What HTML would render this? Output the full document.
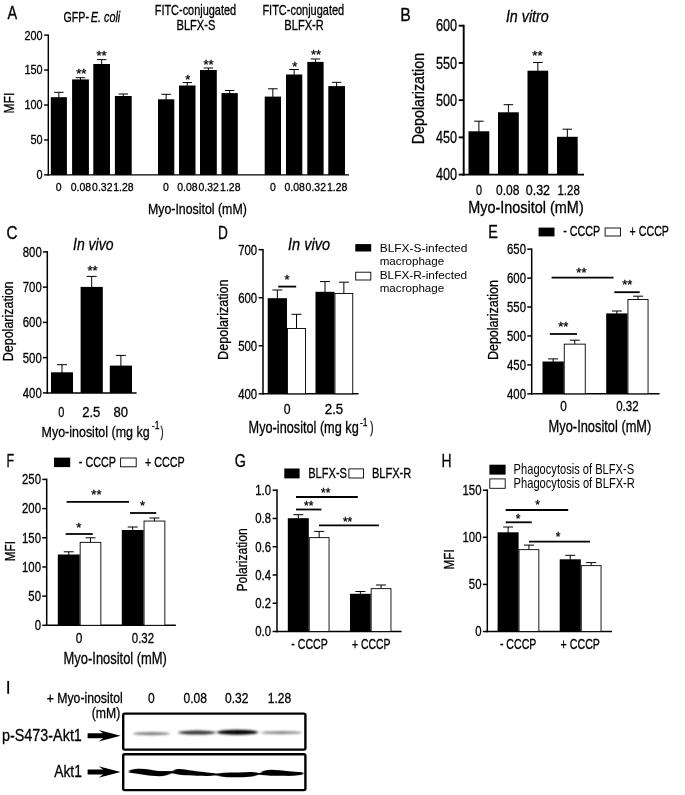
<!DOCTYPE html>
<html><head><meta charset="utf-8"><title>Figure</title>
<style>
html,body{margin:0;padding:0;background:#fff;}
body{width:685px;height:795px;overflow:hidden;}
svg{display:block;font-family:"Liberation Sans",sans-serif;}
text{stroke:#000;stroke-width:0.3px;}
text.n{stroke:none;}
</style></head><body>
<svg width="685" height="795" viewBox="0 0 685 795">
<defs>
<filter id="soft" x="0" y="0" width="685" height="795" filterUnits="userSpaceOnUse"><feGaussianBlur stdDeviation="0.4"/></filter>
<filter id="bA" x="-20%" y="-200%" width="140%" height="500%"><feGaussianBlur stdDeviation="1.6 0.9"/></filter>
<filter id="bB" x="-5%" y="-50%" width="110%" height="200%"><feGaussianBlur stdDeviation="3.5 2.2"/></filter>
</defs>
<rect width="685" height="795" fill="#fff"/>
<g filter="url(#soft)">
<rect width="685" height="795" fill="#fff"/>
<text transform="translate(7.40,19.00) scale(0.8043,1)" font-size="18" fill="#000">A</text>
<text transform="translate(63.60,21.90) scale(0.7591,1)" font-size="14" fill="#000">GFP-</text>
<text transform="translate(90.70,21.90) scale(0.7754,1)" font-size="14" font-style="italic" fill="#000">E. coli</text>
<text transform="translate(154.70,15.20) scale(0.7824,1)" font-size="14" fill="#000">FITC-conjugated</text>
<text transform="translate(176.50,30.40) scale(0.7939,1)" font-size="14" fill="#000">BLFX-S</text>
<text transform="translate(262.40,15.20) scale(0.7852,1)" font-size="14" fill="#000">FITC-conjugated</text>
<text transform="translate(284.30,30.40) scale(0.7937,1)" font-size="14" fill="#000">BLFX-R</text>
<text transform="translate(13.80,113.50) rotate(-90) scale(0.8101,1)" font-size="15">MFI</text>
<line x1="48.30" y1="34.40" x2="48.30" y2="175.60" stroke="#000" stroke-width="1.4"/>
<line x1="47.60" y1="174.90" x2="349.00" y2="174.90" stroke="#000" stroke-width="1.4"/>
<line x1="44.10" y1="35.10" x2="48.30" y2="35.10" stroke="#000" stroke-width="1.4"/>
<text transform="translate(24.40,39.51) scale(0.8649,1)" font-size="12.6" fill="#000">200</text>
<line x1="44.10" y1="70.05" x2="48.30" y2="70.05" stroke="#000" stroke-width="1.4"/>
<text transform="translate(24.40,74.46) scale(0.8649,1)" font-size="12.6" fill="#000">150</text>
<line x1="44.10" y1="105.00" x2="48.30" y2="105.00" stroke="#000" stroke-width="1.4"/>
<text transform="translate(24.40,109.41) scale(0.8649,1)" font-size="12.6" fill="#000">100</text>
<line x1="44.10" y1="139.95" x2="48.30" y2="139.95" stroke="#000" stroke-width="1.4"/>
<text transform="translate(30.50,144.36) scale(0.8649,1)" font-size="12.6" fill="#000">50</text>
<line x1="44.10" y1="174.90" x2="48.30" y2="174.90" stroke="#000" stroke-width="1.4"/>
<text transform="translate(36.55,179.31) scale(0.8649,1)" font-size="12.6" fill="#000">0</text>
<line x1="58.85" y1="92.30" x2="58.85" y2="98.20" stroke="#000" stroke-width="1.0"/>
<line x1="54.10" y1="92.30" x2="63.60" y2="92.30" stroke="#000" stroke-width="1.0"/>
<rect x="50.80" y="97.20" width="16.10" height="77.70" fill="#000"/>
<line x1="80.50" y1="77.70" x2="80.50" y2="80.40" stroke="#000" stroke-width="1.0"/>
<line x1="75.75" y1="77.70" x2="85.25" y2="77.70" stroke="#000" stroke-width="1.0"/>
<rect x="72.10" y="79.40" width="16.80" height="95.50" fill="#000"/>
<line x1="101.65" y1="59.60" x2="101.65" y2="65.00" stroke="#000" stroke-width="1.0"/>
<line x1="96.90" y1="59.60" x2="106.40" y2="59.60" stroke="#000" stroke-width="1.0"/>
<rect x="93.30" y="64.00" width="16.70" height="110.90" fill="#000"/>
<line x1="123.30" y1="94.00" x2="123.30" y2="97.00" stroke="#000" stroke-width="1.0"/>
<line x1="118.55" y1="94.00" x2="128.05" y2="94.00" stroke="#000" stroke-width="1.0"/>
<rect x="114.90" y="96.00" width="16.80" height="78.90" fill="#000"/>
<line x1="166.15" y1="94.30" x2="166.15" y2="100.30" stroke="#000" stroke-width="1.0"/>
<line x1="161.40" y1="94.30" x2="170.90" y2="94.30" stroke="#000" stroke-width="1.0"/>
<rect x="158.00" y="99.30" width="16.30" height="75.60" fill="#000"/>
<line x1="187.25" y1="82.60" x2="187.25" y2="86.50" stroke="#000" stroke-width="1.0"/>
<line x1="182.50" y1="82.60" x2="192.00" y2="82.60" stroke="#000" stroke-width="1.0"/>
<rect x="179.00" y="85.50" width="16.50" height="89.40" fill="#000"/>
<line x1="208.40" y1="68.00" x2="208.40" y2="71.00" stroke="#000" stroke-width="1.0"/>
<line x1="203.65" y1="68.00" x2="213.15" y2="68.00" stroke="#000" stroke-width="1.0"/>
<rect x="200.00" y="70.00" width="16.80" height="104.90" fill="#000"/>
<line x1="229.65" y1="90.50" x2="229.65" y2="94.10" stroke="#000" stroke-width="1.0"/>
<line x1="224.90" y1="90.50" x2="234.40" y2="90.50" stroke="#000" stroke-width="1.0"/>
<rect x="221.50" y="93.10" width="16.30" height="81.80" fill="#000"/>
<line x1="272.85" y1="88.80" x2="272.85" y2="97.60" stroke="#000" stroke-width="1.0"/>
<line x1="268.10" y1="88.80" x2="277.60" y2="88.80" stroke="#000" stroke-width="1.0"/>
<rect x="264.70" y="96.60" width="16.30" height="78.30" fill="#000"/>
<line x1="294.15" y1="69.50" x2="294.15" y2="75.50" stroke="#000" stroke-width="1.0"/>
<line x1="289.40" y1="69.50" x2="298.90" y2="69.50" stroke="#000" stroke-width="1.0"/>
<rect x="286.00" y="74.50" width="16.30" height="100.40" fill="#000"/>
<line x1="315.45" y1="59.00" x2="315.45" y2="62.90" stroke="#000" stroke-width="1.0"/>
<line x1="310.70" y1="59.00" x2="320.20" y2="59.00" stroke="#000" stroke-width="1.0"/>
<rect x="307.30" y="61.90" width="16.30" height="113.00" fill="#000"/>
<line x1="336.65" y1="82.30" x2="336.65" y2="87.10" stroke="#000" stroke-width="1.0"/>
<line x1="331.90" y1="82.30" x2="341.40" y2="82.30" stroke="#000" stroke-width="1.0"/>
<rect x="328.30" y="86.10" width="16.70" height="88.80" fill="#000"/>
<text transform="translate(76.13,77.78) scale(1.0,1)" font-size="13">**</text>
<text transform="translate(96.53,60.38) scale(1.0,1)" font-size="13">**</text>
<text transform="translate(185.37,83.98) scale(1.0,1)" font-size="13">*</text>
<text transform="translate(203.53,68.58) scale(1.0,1)" font-size="13">**</text>
<text transform="translate(292.16,70.58) scale(1.0,1)" font-size="13">*</text>
<text transform="translate(310.93,58.88) scale(1.0,1)" font-size="13">**</text>
<text transform="translate(55.70,190.80) scale(0.9100,1)" font-size="11.5" fill="#000">0</text>
<text transform="translate(70.72,190.80) scale(0.9100,1)" font-size="11.5" fill="#000">0.08</text>
<text transform="translate(92.12,190.80) scale(0.9100,1)" font-size="11.5" fill="#000">0.32</text>
<text transform="translate(113.22,190.80) scale(0.9100,1)" font-size="11.5" fill="#000">1.28</text>
<text transform="translate(162.90,190.80) scale(0.9100,1)" font-size="11.5" fill="#000">0</text>
<text transform="translate(177.22,190.80) scale(0.9100,1)" font-size="11.5" fill="#000">0.08</text>
<text transform="translate(198.52,190.80) scale(0.9100,1)" font-size="11.5" fill="#000">0.32</text>
<text transform="translate(220.12,190.80) scale(0.9100,1)" font-size="11.5" fill="#000">1.28</text>
<text transform="translate(269.90,190.80) scale(0.9100,1)" font-size="11.5" fill="#000">0</text>
<text transform="translate(284.52,190.80) scale(0.9100,1)" font-size="11.5" fill="#000">0.08</text>
<text transform="translate(305.62,190.80) scale(0.9100,1)" font-size="11.5" fill="#000">0.32</text>
<text transform="translate(327.02,190.80) scale(0.9100,1)" font-size="11.5" fill="#000">1.28</text>
<text transform="translate(147.90,213.50) scale(0.8418,1)" font-size="14.7" fill="#000">Myo-Inositol (mM)</text>
<text transform="translate(400.30,20.60) scale(0.8772,1)" font-size="18" fill="#000">B</text>
<text transform="translate(505.90,22.20) scale(0.8773,1)" font-size="16.3" font-style="italic" fill="#000">In vitro</text>
<text transform="translate(424.20,144.20) rotate(-90) scale(0.8662,1)" font-size="16.5">Depolarization</text>
<line x1="463.70" y1="24.75" x2="463.70" y2="175.55" stroke="#000" stroke-width="1.9"/>
<line x1="462.75" y1="174.60" x2="584.00" y2="174.60" stroke="#000" stroke-width="1.9"/>
<line x1="458.70" y1="25.70" x2="463.70" y2="25.70" stroke="#000" stroke-width="1.9"/>
<text transform="translate(436.00,31.40) scale(0.7788,1)" font-size="16.3" fill="#000">600</text>
<line x1="458.70" y1="62.92" x2="463.70" y2="62.92" stroke="#000" stroke-width="1.9"/>
<text transform="translate(436.00,68.63) scale(0.7788,1)" font-size="16.3" fill="#000">550</text>
<line x1="458.70" y1="100.15" x2="463.70" y2="100.15" stroke="#000" stroke-width="1.9"/>
<text transform="translate(436.00,105.85) scale(0.7788,1)" font-size="16.3" fill="#000">500</text>
<line x1="458.70" y1="137.38" x2="463.70" y2="137.38" stroke="#000" stroke-width="1.9"/>
<text transform="translate(436.00,143.08) scale(0.7788,1)" font-size="16.3" fill="#000">450</text>
<line x1="458.70" y1="174.60" x2="463.70" y2="174.60" stroke="#000" stroke-width="1.9"/>
<text transform="translate(436.00,180.31) scale(0.7788,1)" font-size="16.3" fill="#000">400</text>
<line x1="478.90" y1="121.20" x2="478.90" y2="132.30" stroke="#000" stroke-width="1.0"/>
<line x1="474.15" y1="121.20" x2="483.65" y2="121.20" stroke="#000" stroke-width="1.0"/>
<rect x="468.50" y="131.30" width="20.80" height="43.30" fill="#000"/>
<line x1="508.40" y1="104.70" x2="508.40" y2="113.30" stroke="#000" stroke-width="1.0"/>
<line x1="503.65" y1="104.70" x2="513.15" y2="104.70" stroke="#000" stroke-width="1.0"/>
<rect x="498.00" y="112.30" width="20.80" height="62.30" fill="#000"/>
<line x1="537.85" y1="62.50" x2="537.85" y2="71.70" stroke="#000" stroke-width="1.0"/>
<line x1="533.10" y1="62.50" x2="542.60" y2="62.50" stroke="#000" stroke-width="1.0"/>
<rect x="527.50" y="70.70" width="20.70" height="103.90" fill="#000"/>
<line x1="567.35" y1="129.20" x2="567.35" y2="137.80" stroke="#000" stroke-width="1.0"/>
<line x1="562.60" y1="129.20" x2="572.10" y2="129.20" stroke="#000" stroke-width="1.0"/>
<rect x="557.00" y="136.80" width="20.70" height="37.80" fill="#000"/>
<text transform="translate(532.33,59.78) scale(1.0,1)" font-size="13">**</text>
<text transform="translate(476.00,194.90) scale(0.7560,1)" font-size="14.3" fill="#000">0</text>
<text transform="translate(496.00,194.90) scale(0.8377,1)" font-size="14.3" fill="#000">0.08</text>
<text transform="translate(525.80,194.90) scale(0.8701,1)" font-size="14.3" fill="#000">0.32</text>
<text transform="translate(557.50,194.90) scale(0.8018,1)" font-size="14.3" fill="#000">1.28</text>
<text transform="translate(468.20,213.30) scale(0.8750,1)" font-size="16.5" fill="#000">Myo-Inositol (mM)</text>
<text transform="translate(6.60,238.70) scale(0.8730,1)" font-size="17.5" fill="#000">C</text>
<text transform="translate(73.00,250.20) scale(0.8597,1)" font-size="16.3" font-style="italic" fill="#000">In vivo</text>
<text transform="translate(13.10,361.20) rotate(-90) scale(0.8051,1)" font-size="15.5">Depolarization</text>
<line x1="47.30" y1="251.15" x2="47.30" y2="393.65" stroke="#000" stroke-width="1.5"/>
<line x1="46.55" y1="392.90" x2="136.60" y2="392.90" stroke="#000" stroke-width="1.5"/>
<line x1="42.90" y1="251.90" x2="47.30" y2="251.90" stroke="#000" stroke-width="1.5"/>
<text transform="translate(22.80,256.80) scale(0.8127,1)" font-size="14" fill="#000">800</text>
<line x1="42.90" y1="287.15" x2="47.30" y2="287.15" stroke="#000" stroke-width="1.5"/>
<text transform="translate(22.80,292.05) scale(0.8127,1)" font-size="14" fill="#000">700</text>
<line x1="42.90" y1="322.40" x2="47.30" y2="322.40" stroke="#000" stroke-width="1.5"/>
<text transform="translate(22.80,327.30) scale(0.8127,1)" font-size="14" fill="#000">600</text>
<line x1="42.90" y1="357.65" x2="47.30" y2="357.65" stroke="#000" stroke-width="1.5"/>
<text transform="translate(22.80,362.55) scale(0.8127,1)" font-size="14" fill="#000">500</text>
<line x1="42.90" y1="392.90" x2="47.30" y2="392.90" stroke="#000" stroke-width="1.5"/>
<text transform="translate(22.80,397.80) scale(0.8127,1)" font-size="14" fill="#000">400</text>
<line x1="62.00" y1="364.70" x2="62.00" y2="373.30" stroke="#000" stroke-width="1.0"/>
<line x1="57.00" y1="364.70" x2="67.00" y2="364.70" stroke="#000" stroke-width="1.0"/>
<rect x="51.00" y="372.30" width="22.00" height="20.60" fill="#000"/>
<line x1="91.70" y1="276.40" x2="91.70" y2="287.90" stroke="#000" stroke-width="1.0"/>
<line x1="86.70" y1="276.40" x2="96.70" y2="276.40" stroke="#000" stroke-width="1.0"/>
<rect x="80.60" y="286.90" width="22.20" height="106.00" fill="#000"/>
<line x1="120.90" y1="355.40" x2="120.90" y2="366.60" stroke="#000" stroke-width="1.0"/>
<line x1="115.90" y1="355.40" x2="125.90" y2="355.40" stroke="#000" stroke-width="1.0"/>
<rect x="109.80" y="365.60" width="22.20" height="27.30" fill="#000"/>
<text transform="translate(87.43,275.39) scale(1.0,1)" font-size="13">**</text>
<text transform="translate(58.30,416.90) scale(0.7580,1)" font-size="14.5" fill="#000">0</text>
<text transform="translate(82.20,416.90) scale(0.9030,1)" font-size="14.5" fill="#000">2.5</text>
<text transform="translate(113.50,416.90) scale(0.9009,1)" font-size="14.5" fill="#000">80</text>
<text transform="translate(41.50,436.60) scale(0.8059,1)" font-size="15.5" fill="#000">Myo-inositol (mg kg</text>
<text transform="translate(151.80,429.20) scale(0.8133,1)" font-size="10.5" fill="#000">-1</text>
<text transform="translate(160.60,436.60) scale(0.5778,1)" font-size="15.5" fill="#000">)</text>
<text transform="translate(218.00,238.80) scale(0.7778,1)" font-size="17.5" fill="#000">D</text>
<text transform="translate(288.00,250.20) scale(0.8916,1)" font-size="16.3" font-style="italic" fill="#000">In vivo</text>
<text transform="translate(227.80,359.90) rotate(-90) scale(0.8121,1)" font-size="15.5">Depolarization</text>
<line x1="263.00" y1="248.90" x2="263.00" y2="394.55" stroke="#000" stroke-width="1.5"/>
<line x1="262.25" y1="393.80" x2="358.50" y2="393.80" stroke="#000" stroke-width="1.5"/>
<line x1="258.60" y1="249.65" x2="263.00" y2="249.65" stroke="#000" stroke-width="1.5"/>
<text transform="translate(238.20,254.55) scale(0.8127,1)" font-size="14" fill="#000">700</text>
<line x1="258.60" y1="297.70" x2="263.00" y2="297.70" stroke="#000" stroke-width="1.5"/>
<text transform="translate(238.20,302.60) scale(0.8127,1)" font-size="14" fill="#000">600</text>
<line x1="258.60" y1="345.75" x2="263.00" y2="345.75" stroke="#000" stroke-width="1.5"/>
<text transform="translate(238.20,350.65) scale(0.8127,1)" font-size="14" fill="#000">500</text>
<line x1="258.60" y1="393.80" x2="263.00" y2="393.80" stroke="#000" stroke-width="1.5"/>
<text transform="translate(238.20,398.70) scale(0.8127,1)" font-size="14" fill="#000">400</text>
<line x1="277.35" y1="290.00" x2="277.35" y2="299.20" stroke="#000" stroke-width="1.0"/>
<line x1="272.35" y1="290.00" x2="282.35" y2="290.00" stroke="#000" stroke-width="1.0"/>
<rect x="267.70" y="298.20" width="19.30" height="95.60" fill="#000"/>
<line x1="296.50" y1="314.30" x2="296.50" y2="329.00" stroke="#000" stroke-width="1.0"/>
<line x1="291.50" y1="314.30" x2="301.50" y2="314.30" stroke="#000" stroke-width="1.0"/>
<rect x="287.45" y="328.45" width="18.10" height="65.35" fill="#fff" stroke="#000" stroke-width="0.9"/>
<line x1="325.00" y1="281.60" x2="325.00" y2="292.80" stroke="#000" stroke-width="1.0"/>
<line x1="320.00" y1="281.60" x2="330.00" y2="281.60" stroke="#000" stroke-width="1.0"/>
<rect x="315.50" y="291.80" width="19.00" height="102.00" fill="#000"/>
<line x1="343.85" y1="282.20" x2="343.85" y2="294.00" stroke="#000" stroke-width="1.0"/>
<line x1="338.85" y1="282.20" x2="348.85" y2="282.20" stroke="#000" stroke-width="1.0"/>
<rect x="334.95" y="293.45" width="17.80" height="100.35" fill="#fff" stroke="#000" stroke-width="0.9"/>
<line x1="278.20" y1="286.60" x2="296.20" y2="286.60" stroke="#000" stroke-width="1.8"/>
<text transform="translate(284.46,283.79) scale(1.0,1)" font-size="13">*</text>
<text transform="translate(283.70,413.60) scale(0.8008,1)" font-size="15.3" fill="#000">0</text>
<text transform="translate(324.80,413.60) scale(0.8652,1)" font-size="15.3" fill="#000">2.5</text>
<text transform="translate(248.60,433.40) scale(0.8045,1)" font-size="15.8" fill="#000">Myo-inositol (mg kg</text>
<text transform="translate(360.00,426.00) scale(0.8133,1)" font-size="10.5" fill="#000">-1</text>
<text transform="translate(370.20,433.40) scale(0.6046,1)" font-size="15.8" fill="#000">)</text>
<rect x="355.30" y="244.10" width="15.90" height="7.40" fill="#000"/>
<rect x="355.70" y="272.20" width="15.10" height="7.80" fill="#fff" stroke="#000" stroke-width="0.9"/>
<text transform="translate(379.70,251.90) scale(1.0385,1)" font-size="11.5" class="n" fill="#000">BLFX-S-infected</text>
<text transform="translate(379.70,264.70) scale(1.0103,1)" font-size="11.5" class="n" fill="#000">macrophage</text>
<text transform="translate(379.70,279.20) scale(1.0308,1)" font-size="11.5" class="n" fill="#000">BLFX-R-infected</text>
<text transform="translate(379.70,292.30) scale(1.0103,1)" font-size="11.5" class="n" fill="#000">macrophage</text>
<text transform="translate(488.20,237.90) scale(0.8249,1)" font-size="17.5" fill="#000">E</text>
<rect x="538.60" y="227.60" width="15.90" height="8.80" fill="#000"/>
<text transform="translate(563.20,236.40) scale(0.7179,1)" font-size="15" fill="#000">- CCCP</text>
<rect x="605.10" y="228.00" width="15.40" height="8.00" fill="#fff" stroke="#000" stroke-width="0.9"/>
<text transform="translate(629.50,236.40) scale(0.7127,1)" font-size="15" fill="#000">+ CCCP</text>
<text transform="translate(498.10,360.10) rotate(-90) scale(0.8091,1)" font-size="15.5">Depolarization</text>
<line x1="531.70" y1="248.43" x2="531.70" y2="394.55" stroke="#000" stroke-width="1.5"/>
<line x1="530.95" y1="393.80" x2="659.60" y2="393.80" stroke="#000" stroke-width="1.5"/>
<line x1="527.30" y1="249.18" x2="531.70" y2="249.18" stroke="#000" stroke-width="1.5"/>
<text transform="translate(507.00,254.08) scale(0.8127,1)" font-size="14" fill="#000">650</text>
<line x1="527.30" y1="278.10" x2="531.70" y2="278.10" stroke="#000" stroke-width="1.5"/>
<text transform="translate(507.00,283.00) scale(0.8127,1)" font-size="14" fill="#000">600</text>
<line x1="527.30" y1="307.02" x2="531.70" y2="307.02" stroke="#000" stroke-width="1.5"/>
<text transform="translate(507.00,311.92) scale(0.8127,1)" font-size="14" fill="#000">550</text>
<line x1="527.30" y1="335.95" x2="531.70" y2="335.95" stroke="#000" stroke-width="1.5"/>
<text transform="translate(507.00,340.85) scale(0.8127,1)" font-size="14" fill="#000">500</text>
<line x1="527.30" y1="364.88" x2="531.70" y2="364.88" stroke="#000" stroke-width="1.5"/>
<text transform="translate(507.00,369.77) scale(0.8127,1)" font-size="14" fill="#000">450</text>
<line x1="527.30" y1="393.80" x2="531.70" y2="393.80" stroke="#000" stroke-width="1.5"/>
<text transform="translate(507.00,398.70) scale(0.8127,1)" font-size="14" fill="#000">400</text>
<line x1="553.15" y1="358.90" x2="553.15" y2="362.50" stroke="#000" stroke-width="1.0"/>
<line x1="548.15" y1="358.90" x2="558.15" y2="358.90" stroke="#000" stroke-width="1.0"/>
<rect x="542.50" y="361.50" width="21.30" height="32.30" fill="#000"/>
<line x1="574.75" y1="340.20" x2="574.75" y2="344.70" stroke="#000" stroke-width="1.0"/>
<line x1="569.75" y1="340.20" x2="579.75" y2="340.20" stroke="#000" stroke-width="1.0"/>
<rect x="564.25" y="344.15" width="21.00" height="49.65" fill="#fff" stroke="#000" stroke-width="0.9"/>
<line x1="616.85" y1="311.00" x2="616.85" y2="314.40" stroke="#000" stroke-width="1.0"/>
<line x1="611.85" y1="311.00" x2="621.85" y2="311.00" stroke="#000" stroke-width="1.0"/>
<rect x="606.20" y="313.40" width="21.30" height="80.40" fill="#000"/>
<line x1="638.00" y1="296.20" x2="638.00" y2="300.10" stroke="#000" stroke-width="1.0"/>
<line x1="633.00" y1="296.20" x2="643.00" y2="296.20" stroke="#000" stroke-width="1.0"/>
<rect x="627.95" y="299.55" width="20.10" height="94.25" fill="#fff" stroke="#000" stroke-width="0.9"/>
<line x1="551.60" y1="277.60" x2="613.50" y2="277.60" stroke="#000" stroke-width="1.8"/>
<text transform="translate(576.33,276.79) scale(1.0,1)" font-size="13">**</text>
<line x1="614.30" y1="292.20" x2="639.70" y2="292.20" stroke="#000" stroke-width="1.8"/>
<text transform="translate(622.13,289.39) scale(1.0,1)" font-size="13">**</text>
<line x1="549.80" y1="334.00" x2="577.00" y2="334.00" stroke="#000" stroke-width="1.8"/>
<text transform="translate(558.13,331.49) scale(1.0,1)" font-size="13">**</text>
<text transform="translate(560.20,411.00) scale(0.7928,1)" font-size="15" fill="#000">0</text>
<text transform="translate(616.20,411.00) scale(0.7644,1)" font-size="15" fill="#000">0.32</text>
<text transform="translate(548.60,431.80) scale(0.8031,1)" font-size="16" fill="#000">Myo-Inositol (mM)</text>
<text transform="translate(6.60,466.90) scale(0.6922,1)" font-size="18" fill="#000">F</text>
<rect x="54.00" y="457.60" width="16.20" height="9.50" fill="#000"/>
<text transform="translate(78.80,467.10) scale(0.7199,1)" font-size="15" fill="#000">- CCCP</text>
<rect x="120.60" y="458.00" width="15.60" height="8.80" fill="#fff" stroke="#000" stroke-width="0.9"/>
<text transform="translate(145.00,467.10) scale(0.7181,1)" font-size="15" fill="#000">+ CCCP</text>
<text transform="translate(14.50,561.30) rotate(-90) scale(0.7614,1)" font-size="15.5">MFI</text>
<line x1="46.70" y1="478.65" x2="46.70" y2="626.05" stroke="#000" stroke-width="1.5"/>
<line x1="45.95" y1="625.30" x2="175.80" y2="625.30" stroke="#000" stroke-width="1.5"/>
<line x1="42.30" y1="479.40" x2="46.70" y2="479.40" stroke="#000" stroke-width="1.5"/>
<text transform="translate(22.00,484.30) scale(0.8127,1)" font-size="14" fill="#000">250</text>
<line x1="42.30" y1="508.58" x2="46.70" y2="508.58" stroke="#000" stroke-width="1.5"/>
<text transform="translate(22.00,513.48) scale(0.8127,1)" font-size="14" fill="#000">200</text>
<line x1="42.30" y1="537.76" x2="46.70" y2="537.76" stroke="#000" stroke-width="1.5"/>
<text transform="translate(22.00,542.66) scale(0.8127,1)" font-size="14" fill="#000">150</text>
<line x1="42.30" y1="566.94" x2="46.70" y2="566.94" stroke="#000" stroke-width="1.5"/>
<text transform="translate(22.00,571.84) scale(0.8127,1)" font-size="14" fill="#000">100</text>
<line x1="42.30" y1="596.12" x2="46.70" y2="596.12" stroke="#000" stroke-width="1.5"/>
<text transform="translate(28.37,601.02) scale(0.8127,1)" font-size="14" fill="#000">50</text>
<line x1="42.30" y1="625.30" x2="46.70" y2="625.30" stroke="#000" stroke-width="1.5"/>
<text transform="translate(34.69,630.20) scale(0.8127,1)" font-size="14" fill="#000">0</text>
<line x1="68.75" y1="551.80" x2="68.75" y2="555.50" stroke="#000" stroke-width="1.0"/>
<line x1="63.75" y1="551.80" x2="73.75" y2="551.80" stroke="#000" stroke-width="1.0"/>
<rect x="57.80" y="554.50" width="21.90" height="70.80" fill="#000"/>
<line x1="90.50" y1="537.80" x2="90.50" y2="542.90" stroke="#000" stroke-width="1.0"/>
<line x1="85.50" y1="537.80" x2="95.50" y2="537.80" stroke="#000" stroke-width="1.0"/>
<rect x="80.15" y="542.35" width="20.70" height="82.95" fill="#fff" stroke="#000" stroke-width="0.9"/>
<line x1="132.70" y1="527.00" x2="132.70" y2="531.00" stroke="#000" stroke-width="1.0"/>
<line x1="127.70" y1="527.00" x2="137.70" y2="527.00" stroke="#000" stroke-width="1.0"/>
<rect x="121.80" y="530.00" width="21.80" height="95.30" fill="#000"/>
<line x1="154.45" y1="518.00" x2="154.45" y2="521.60" stroke="#000" stroke-width="1.0"/>
<line x1="149.45" y1="518.00" x2="159.45" y2="518.00" stroke="#000" stroke-width="1.0"/>
<rect x="144.05" y="521.05" width="20.80" height="104.25" fill="#fff" stroke="#000" stroke-width="0.9"/>
<line x1="66.60" y1="501.90" x2="129.00" y2="501.90" stroke="#000" stroke-width="1.8"/>
<text transform="translate(91.33,499.19) scale(1.0,1)" font-size="13">**</text>
<line x1="130.00" y1="513.00" x2="156.20" y2="513.00" stroke="#000" stroke-width="1.8"/>
<text transform="translate(139.97,509.79) scale(1.0,1)" font-size="13">*</text>
<line x1="65.70" y1="534.00" x2="92.80" y2="534.00" stroke="#000" stroke-width="1.8"/>
<text transform="translate(76.27,532.18) scale(1.0,1)" font-size="13">*</text>
<text transform="translate(75.80,643.40) scale(0.7928,1)" font-size="15" fill="#000">0</text>
<text transform="translate(131.80,643.40) scale(0.7644,1)" font-size="15" fill="#000">0.32</text>
<text transform="translate(63.60,663.80) scale(0.8078,1)" font-size="16" fill="#000">Myo-Inositol (mM)</text>
<text transform="translate(234.80,466.50) scale(0.7977,1)" font-size="18" fill="#000">G</text>
<rect x="284.30" y="468.50" width="15.30" height="9.90" fill="#000"/>
<text transform="translate(308.20,478.40) scale(0.7390,1)" font-size="15" fill="#000">BLFX-S</text>
<rect x="348.90" y="468.90" width="14.60" height="9.10" fill="#fff" stroke="#000" stroke-width="0.9"/>
<text transform="translate(371.90,478.40) scale(0.7389,1)" font-size="15" fill="#000">BLFX-R</text>
<text transform="translate(246.90,591.60) rotate(-90) scale(0.7828,1)" font-size="15.5">Polarization</text>
<line x1="277.00" y1="489.45" x2="277.00" y2="632.25" stroke="#000" stroke-width="1.5"/>
<line x1="276.25" y1="631.50" x2="401.60" y2="631.50" stroke="#000" stroke-width="1.5"/>
<line x1="272.60" y1="490.20" x2="277.00" y2="490.20" stroke="#000" stroke-width="1.5"/>
<text transform="translate(255.19,495.10) scale(0.8127,1)" font-size="14" fill="#000">1.0</text>
<line x1="272.60" y1="518.46" x2="277.00" y2="518.46" stroke="#000" stroke-width="1.5"/>
<text transform="translate(255.19,523.36) scale(0.8127,1)" font-size="14" fill="#000">0.8</text>
<line x1="272.60" y1="546.72" x2="277.00" y2="546.72" stroke="#000" stroke-width="1.5"/>
<text transform="translate(255.19,551.62) scale(0.8127,1)" font-size="14" fill="#000">0.6</text>
<line x1="272.60" y1="574.98" x2="277.00" y2="574.98" stroke="#000" stroke-width="1.5"/>
<text transform="translate(255.19,579.88) scale(0.8127,1)" font-size="14" fill="#000">0.4</text>
<line x1="272.60" y1="603.24" x2="277.00" y2="603.24" stroke="#000" stroke-width="1.5"/>
<text transform="translate(255.19,608.14) scale(0.8127,1)" font-size="14" fill="#000">0.2</text>
<line x1="272.60" y1="631.50" x2="277.00" y2="631.50" stroke="#000" stroke-width="1.5"/>
<text transform="translate(255.19,636.40) scale(0.8127,1)" font-size="14" fill="#000">0.0</text>
<line x1="298.30" y1="514.70" x2="298.30" y2="519.20" stroke="#000" stroke-width="1.0"/>
<line x1="293.30" y1="514.70" x2="303.30" y2="514.70" stroke="#000" stroke-width="1.0"/>
<rect x="287.80" y="518.20" width="21.00" height="113.30" fill="#000"/>
<line x1="319.15" y1="531.40" x2="319.15" y2="538.20" stroke="#000" stroke-width="1.0"/>
<line x1="314.15" y1="531.40" x2="324.15" y2="531.40" stroke="#000" stroke-width="1.0"/>
<rect x="309.25" y="537.65" width="19.80" height="93.85" fill="#fff" stroke="#000" stroke-width="0.9"/>
<line x1="360.35" y1="591.50" x2="360.35" y2="594.80" stroke="#000" stroke-width="1.0"/>
<line x1="355.35" y1="591.50" x2="365.35" y2="591.50" stroke="#000" stroke-width="1.0"/>
<rect x="350.00" y="593.80" width="20.70" height="37.70" fill="#000"/>
<line x1="381.05" y1="585.00" x2="381.05" y2="589.20" stroke="#000" stroke-width="1.0"/>
<line x1="376.05" y1="585.00" x2="386.05" y2="585.00" stroke="#000" stroke-width="1.0"/>
<rect x="371.15" y="588.65" width="19.80" height="42.85" fill="#fff" stroke="#000" stroke-width="0.9"/>
<line x1="296.00" y1="497.00" x2="357.80" y2="497.00" stroke="#000" stroke-width="1.8"/>
<text transform="translate(321.02,497.14) scale(1.0,1)" font-size="12">**</text>
<line x1="296.00" y1="509.50" x2="321.40" y2="509.50" stroke="#000" stroke-width="1.8"/>
<text transform="translate(304.12,509.64) scale(1.0,1)" font-size="12">**</text>
<line x1="319.00" y1="525.30" x2="378.90" y2="525.30" stroke="#000" stroke-width="1.8"/>
<text transform="translate(342.92,525.74) scale(1.0,1)" font-size="12">**</text>
<text transform="translate(291.30,649.30) scale(0.7063,1)" font-size="15" fill="#000">- CCCP</text>
<text transform="translate(352.00,649.30) scale(0.6946,1)" font-size="15" fill="#000">+ CCCP</text>
<text transform="translate(441.60,466.90) scale(0.7716,1)" font-size="18" fill="#000">H</text>
<rect x="489.40" y="464.70" width="16.20" height="9.90" fill="#000"/>
<text transform="translate(513.60,474.40) scale(0.7835,1)" font-size="14.2" class="n" fill="#000">Phagocytosis of BLFX-S</text>
<rect x="489.80" y="478.90" width="15.40" height="9.40" fill="#fff" stroke="#000" stroke-width="0.9"/>
<text transform="translate(513.60,487.90) scale(0.7847,1)" font-size="14.2" class="n" fill="#000">Phagocytosis of BLFX-R</text>
<text transform="translate(454.20,569.50) rotate(-90) scale(0.7577,1)" font-size="15.5">MFI</text>
<line x1="487.30" y1="489.45" x2="487.30" y2="632.25" stroke="#000" stroke-width="1.5"/>
<line x1="486.55" y1="631.50" x2="612.00" y2="631.50" stroke="#000" stroke-width="1.5"/>
<line x1="482.90" y1="490.20" x2="487.30" y2="490.20" stroke="#000" stroke-width="1.5"/>
<text transform="translate(462.50,495.10) scale(0.8127,1)" font-size="14" fill="#000">150</text>
<line x1="482.90" y1="537.30" x2="487.30" y2="537.30" stroke="#000" stroke-width="1.5"/>
<text transform="translate(462.50,542.20) scale(0.8127,1)" font-size="14" fill="#000">100</text>
<line x1="482.90" y1="584.40" x2="487.30" y2="584.40" stroke="#000" stroke-width="1.5"/>
<text transform="translate(468.87,589.30) scale(0.8127,1)" font-size="14" fill="#000">50</text>
<line x1="482.90" y1="631.50" x2="487.30" y2="631.50" stroke="#000" stroke-width="1.5"/>
<text transform="translate(475.19,636.40) scale(0.8127,1)" font-size="14" fill="#000">0</text>
<line x1="508.10" y1="527.00" x2="508.10" y2="533.30" stroke="#000" stroke-width="1.0"/>
<line x1="503.10" y1="527.00" x2="513.10" y2="527.00" stroke="#000" stroke-width="1.0"/>
<rect x="497.60" y="532.30" width="21.00" height="99.20" fill="#000"/>
<line x1="528.95" y1="545.10" x2="528.95" y2="550.20" stroke="#000" stroke-width="1.0"/>
<line x1="523.95" y1="545.10" x2="533.95" y2="545.10" stroke="#000" stroke-width="1.0"/>
<rect x="519.05" y="549.65" width="19.80" height="81.85" fill="#fff" stroke="#000" stroke-width="0.9"/>
<line x1="570.25" y1="555.30" x2="570.25" y2="560.30" stroke="#000" stroke-width="1.0"/>
<line x1="565.25" y1="555.30" x2="575.25" y2="555.30" stroke="#000" stroke-width="1.0"/>
<rect x="559.70" y="559.30" width="21.10" height="72.20" fill="#000"/>
<line x1="591.15" y1="562.60" x2="591.15" y2="566.20" stroke="#000" stroke-width="1.0"/>
<line x1="586.15" y1="562.60" x2="596.15" y2="562.60" stroke="#000" stroke-width="1.0"/>
<rect x="581.25" y="565.65" width="19.80" height="65.85" fill="#fff" stroke="#000" stroke-width="0.9"/>
<line x1="505.70" y1="510.00" x2="568.20" y2="510.00" stroke="#000" stroke-width="1.8"/>
<text transform="translate(535.26,509.44) scale(1.0,1)" font-size="12">*</text>
<line x1="505.70" y1="522.30" x2="531.70" y2="522.30" stroke="#000" stroke-width="1.8"/>
<text transform="translate(515.66,522.94) scale(1.0,1)" font-size="12">*</text>
<line x1="529.00" y1="541.60" x2="590.10" y2="541.60" stroke="#000" stroke-width="1.8"/>
<text transform="translate(555.66,541.44) scale(1.0,1)" font-size="12">*</text>
<text transform="translate(499.90,649.30) scale(0.7063,1)" font-size="15" fill="#000">- CCCP</text>
<text transform="translate(560.60,649.30) scale(0.7109,1)" font-size="15" fill="#000">+ CCCP</text>
<rect x="7.30" y="680.90" width="1.80" height="12.90" fill="#000"/>
<text transform="translate(46.70,703.20) scale(0.8461,1)" font-size="14.5" fill="#000">+ Myo-inositol</text>
<text transform="translate(91.80,717.50) scale(0.8436,1)" font-size="14.5" fill="#000">(mM)</text>
<text transform="translate(148.06,703.30) scale(0.8600,1)" font-size="14" fill="#000">0</text>
<text transform="translate(183.59,703.30) scale(0.8600,1)" font-size="14" fill="#000">0.08</text>
<text transform="translate(225.09,703.30) scale(0.8600,1)" font-size="14" fill="#000">0.32</text>
<text transform="translate(267.69,703.30) scale(0.8600,1)" font-size="14" fill="#000">1.28</text>
<text transform="translate(2.00,741.20) scale(0.8709,1)" font-size="16.5" fill="#000">p-S473-Akt1</text>
<text transform="translate(54.20,777.30) scale(0.8364,1)" font-size="16.5" fill="#000">Akt1</text>
<path d="M87.6,733.2 L103.1,733.2 L98.6,729.9000000000001 L120.6,735.7 L98.6,741.5 L103.1,738.2 L87.6,738.2 Z" fill="#000"/>
<path d="M87.6,769.5 L103.1,769.5 L98.6,766.2 L120.6,772 L98.6,777.8 L103.1,774.5 L87.6,774.5 Z" fill="#000"/>
<rect x="123.2" y="713.6" width="182.2" height="36" rx="1.5" fill="#fff" stroke="#000" stroke-width="2.4"/>
<rect x="123.2" y="754.2" width="182.2" height="35.9" rx="1.5" fill="#fff" stroke="#000" stroke-width="2.4"/>
<ellipse cx="151.5" cy="733.6" rx="18.5" ry="1.7" fill="#000" opacity="0.5" filter="url(#bA)"/>
<ellipse cx="197.0" cy="732.6" rx="19.0" ry="2.0" fill="#000" opacity="0.8" filter="url(#bA)"/>
<ellipse cx="237.5" cy="732.2" rx="20.5" ry="2.5" fill="#000" opacity="1" filter="url(#bA)"/>
<ellipse cx="281.5" cy="732.6" rx="20.5" ry="1.7" fill="#000" opacity="0.45" filter="url(#bA)"/>
<g filter="url(#bB)" fill="#000" transform="translate(120,750) scale(0.2774)">
<path d="M34,74 C44,67 80,65 105,70 S150,79 183,76 L188,80 C178,92 150,96 125,94 S60,84 34,82 Z"/>
<path d="M190,76 C196,67 220,67 240,71 S300,79 335,83 L346,87 C338,93 320,94 290,93 S208,92 190,83 Z"/>
<path d="M352,87 C364,80 400,81 430,81 S480,77 496,82 L498,87 C493,95 470,97 430,98 S362,99 352,91 Z"/>
<path d="M508,81 C518,70 545,69 575,73 S640,77 658,82 L662,86 C653,93 620,94 590,93 S522,94 508,88 Z"/>
<path d="M34,78 L185,80 L345,88 L500,86 L658,84" stroke="#000" stroke-width="7" fill="none" stroke-linejoin="round"/>
</g>
</g>
</svg>
</body></html>
